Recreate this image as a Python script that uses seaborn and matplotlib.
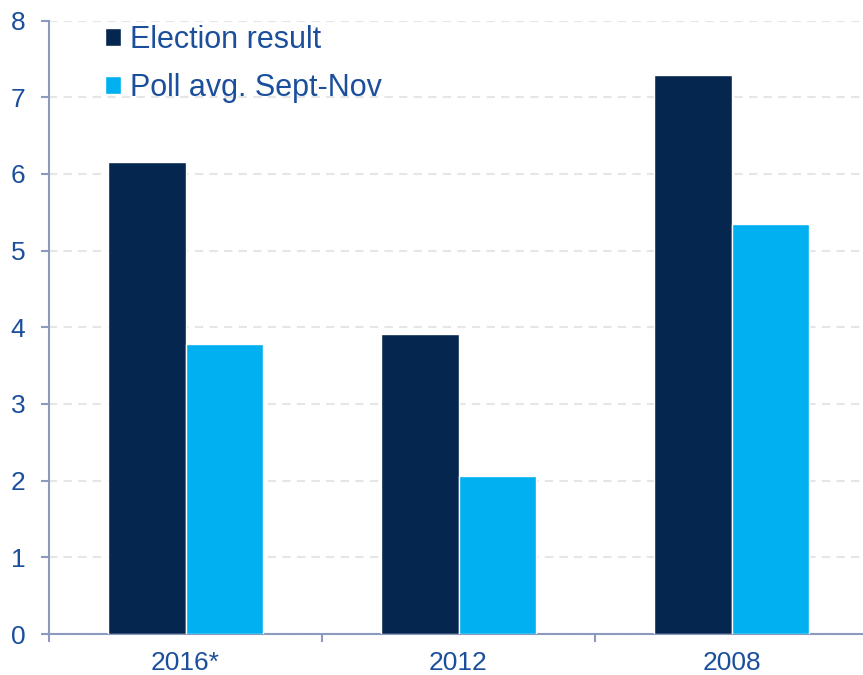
import pandas as pd
import numpy as np
import matplotlib
matplotlib.use("Agg")
import matplotlib.pyplot as plt
import seaborn as sns

years = ["2016*", "2012", "2008"]
election_result = [6.15, 3.91, 7.29]
poll_avg = [3.78, 2.06, 5.35]
series_names = ["Election result", "Poll avg. Sept-Nov"]

df = pd.DataFrame({
    "Year": years * 2,
    "Value": election_result + poll_avg,
    "Series": [series_names[0]] * 3 + [series_names[1]] * 3,
})

sns.set_style("white")
plt.rcParams['font.family'] = ['Liberation Sans', 'DejaVu Sans']

text_col = "#1B4F9C"
axis_col = "#8C9AC0"

fig = plt.figure(figsize=(8.63, 6.75), dpi=100)
ax = fig.add_axes([49 / 863, 41 / 675, 819 / 863, 613.4 / 675])

sns.barplot(data=df, x="Year", y="Value", hue="Series", order=years,
            hue_order=series_names, palette=["#05264F", "#00B0F0"],
            width=0.57, saturation=1, ax=ax, zorder=3)

ax.set_xlim(-0.5, 2.5)
ax.set_ylim(0, 8)
ax.set_yticks(range(0, 9))
ax.set_xlabel("")
ax.set_ylabel("")

# light dashed gridlines behind the bars
ax.yaxis.grid(True, color="#E6E6E6", linestyle=(0, (4, 3)), linewidth=1.5, zorder=0)
ax.set_axisbelow(True)

for side in ["top", "right"]:
    ax.spines[side].set_visible(False)
for side in ["left", "bottom"]:
    ax.spines[side].set_color(axis_col)
    ax.spines[side].set_linewidth(1.5)

ax.tick_params(axis="y", direction="out", length=6, width=1.5, color=axis_col,
               labelsize=19, labelcolor=text_col, pad=11, left=True)
ax.tick_params(axis="x", which="major", length=0, labelsize=19,
               labelcolor=text_col, pad=12)
ax.set_xticks([-0.5, 0.5, 1.5, 2.5], minor=True)
ax.tick_params(axis="x", which="minor", direction="out", length=6, width=1.5,
               color=axis_col, bottom=True)

leg = ax.legend(loc="upper left", bbox_to_anchor=(0.068, 0.993), frameon=False,
                fontsize=22, handlelength=0.53, handleheight=0.53,
                handletextpad=0.3, labelspacing=0.58, borderpad=0,
                borderaxespad=0)
for t in leg.get_texts():
    t.set_color(text_col)

fig.savefig("out.png", dpi=100)
